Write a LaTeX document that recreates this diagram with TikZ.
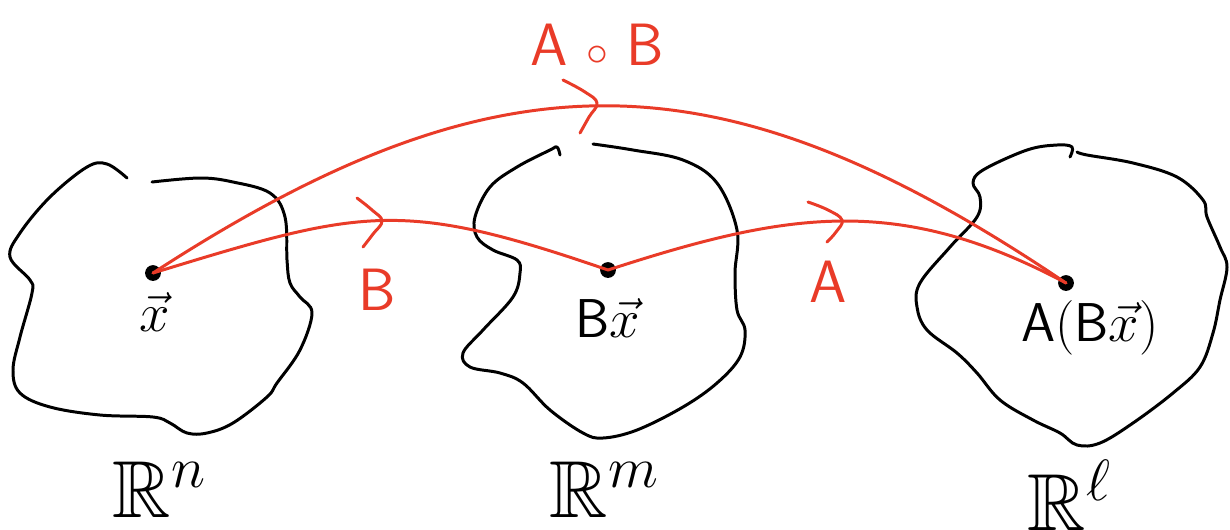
\documentclass[tikz,border=0pt]{standalone}
\usepackage{amssymb}
\definecolor{penred}{RGB}{233,59,40}
\begin{document}
\begin{tikzpicture}[x=0.02cm,y=0.02cm,
  blob/.style={draw=black,line width=1.7pt,line cap=round,line join=round},
  redpen/.style={draw=penred,line width=1.7pt,line cap=round,line join=round},
  dot/.style={circle,fill=black,inner sep=0pt,minimum size=9pt},
  lbl/.style={text=black,inner sep=0pt,font=\fontsize{20}{24}\selectfont,scale=1.5},
  rlbl/.style={text=penred,inner sep=0pt,font=\fontsize{34}{38}\selectfont\sffamily},
  space/.style={text=black,inner sep=0pt,font=\fontsize{20}{24}\selectfont,scale=2.3}]
\useasboundingbox (0,0) rectangle (1230,-529);
% blobs
\draw[blob] plot[smooth,tension=0.6] coordinates {(127,-178)(107,-164)(87,-167)(50,-197)(20,-233)(10,-257)(30,-280)(32,-293)(20,-337)(13,-370)(20,-393)(50,-407)(100,-415)(153,-417)(170,-423)(187,-433)(207,-433)(233,-423)(267,-397)(277,-383)(300,-350)(312,-313)(300,-297)(290,-283)(287,-260)(285,-217)(270,-193)(233,-182)(200,-178)(152,-182)};
\draw[blob] plot[smooth,tension=0.6] coordinates {(560,-155)(557,-147)(550,-150)(517,-167)(490,-187)(475,-217)(477,-237)(493,-250)(517,-260)(520,-273)(513,-297)(483,-330)(463,-353)(470,-367)(500,-373)(523,-383)(550,-410)(583,-433)(603,-438)(637,-430)(683,-407)(717,-383)(740,-357)(745,-330)(737,-310)(735,-273)(737,-230)(717,-183)(683,-160)(633,-150)(593,-144)};
\draw[blob] plot[smooth,tension=0.6] coordinates {(1070,-157)(1072,-147)(1057,-145)(1027,-150)(983,-170)(973,-183)(980,-197)(977,-217)(950,-247)(920,-283)(917,-307)(927,-330)(957,-353)(977,-373)(1000,-400)(1033,-420)(1060,-433)(1077,-445)(1100,-443)(1133,-423)(1173,-393)(1200,-367)(1213,-333)(1220,-300)(1227,-267)(1220,-247)(1207,-217)(1203,-200)(1177,-177)(1133,-163)(1087,-155)(1077,-152)};
% points
\node[dot] (x) at (153,-273) {};
\node[dot] (bx) at (608,-270) {};
\node[dot] (abx) at (1066,-283) {};
% connectors
\draw[redpen] (x.center) .. controls +(33:416) and +(146:416) .. (abx.center);
\draw[redpen] (x.center) .. controls +(17:220) and +(161:220) .. (bx.center);
\draw[redpen] (bx.center) .. controls +(18:190) and +(152:190) .. (abx.center);
% chevrons
\draw[redpen] plot[smooth,tension=0.7] coordinates {(563,-80)(585,-92)(597,-103)(589,-117)(580,-133)};
\draw[redpen] plot[smooth,tension=0.7] coordinates {(357,-198)(372,-210)(382,-221)(373,-234)(363,-247)};
\draw[redpen] plot[smooth,tension=0.7] coordinates {(808,-202)(828,-210)(842,-220)(836,-232)(827,-242)};
% labels
\node[rlbl] (lab) at (597,-45) {A $\circ$ B};
\node[rlbl] (lb) at (377,-290) {B};
\node[rlbl] (la) at (828,-282) {A};
\node[lbl] (lx) at (155,-312) {$\vec{x}$};
\node[lbl] (lbx) at (608,-318) {$\mathsf{B}\vec{x}$};
\node[lbl] (labx) at (1090,-328) {$\mathsf{A}(\mathsf{B}\vec{x})$};
\node[space] (rn) at (160,-490) {$\mathbb{R}^n$};
\node[space] (rm) at (605,-490) {$\mathbb{R}^m$};
\node[space] (rl) at (1070,-495) {$\mathbb{R}^\ell$};
\end{tikzpicture}
\end{document}
